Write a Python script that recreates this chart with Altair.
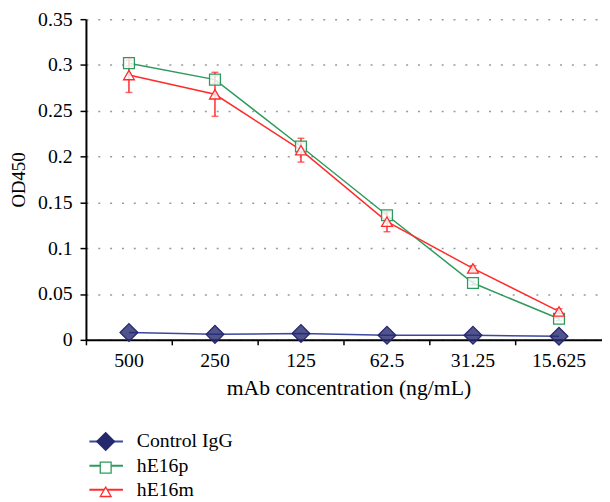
import altair as alt
import pandas as pd

conc = ["500", "250", "125", "62.5", "31.25", "15.625"]
series_names = ["Control IgG", "hE16p", "hE16m"]
control_igg = [0.008, 0.006, 0.007, 0.005, 0.005, 0.004]
he16p = [0.302, 0.284, 0.211, 0.136, 0.062, 0.023]
he16m = [0.289, 0.268, 0.207, 0.129, 0.078, 0.031]
control_err = [0, 0, 0, 0, 0, 0]
he16p_err = [0.003, 0.004, 0.004, 0.004, 0.002, 0.002]
he16m_err = [0.019, 0.024, 0.013, 0.011, 0.003, 0.003]

line_names = [n + " " for n in series_names]

rows = []
for name, lname, vals, errs in zip(series_names, line_names, [control_igg, he16p, he16m],
                                   [control_err, he16p_err, he16m_err]):
    for c, v, e in zip(conc, vals, errs):
        rows.append({"conc": c, "series": name, "series_l": lname, "od": v,
                     "lo": v - e, "hi": v + e})
df = pd.DataFrame(rows)

FONT = "Liberation Serif"
line_colors = ["#3d479e", "#2e9a5e", "#ff2b2b"]
point_colors = ["#26286e", "#2e9a5e", "#ff2b2b"]
fills = ["#26286e", "#ffffff", "#ffffff"]
shapes = ["diamond", "square", "triangle-up"]
sizes = [324, 121, 121]

x_enc = alt.X("conc:N", sort=conc,
              scale=alt.Scale(type="band", paddingInner=0, paddingOuter=0),
              axis=alt.Axis(title="mAb concentration (ng/mL)", labelAngle=0,
                            bandPosition=0, tickSize=5, tickColor="black",
                            tickWidth=1.5, domainColor="black", domainWidth=2,
                            labelFont=FONT, labelFontSize=20, labelColor="black",
                            labelPadding=6, titleFont=FONT, titleFontSize=22,
                            titleFontWeight="normal", titleColor="black",
                            titlePadding=7, titleX=266, grid=False))
y_enc = alt.Y("od:Q", scale=alt.Scale(domain=[0, 0.35], nice=False),
              axis=alt.Axis(title="OD450", values=[0, 0.05, 0.1, 0.15, 0.2, 0.25, 0.3, 0.35],
                            format=".2~f", tickSize=6, tickColor="black", tickWidth=1.5,
                            domainColor="black", domainWidth=2,
                            labelFont=FONT, labelFontSize=20, labelColor="black",
                            labelPadding=8, titleFont=FONT, titleFontSize=19,
                            titleFontWeight="normal", titleColor="black",
                            titlePadding=9, grid=True, gridColor="#999999",
                            gridDash=[2, 10], gridWidth=1.5))

base = alt.Chart(df)

lines = base.mark_line(strokeWidth=1.5).encode(
    x=x_enc, y=y_enc,
    stroke=alt.Stroke("series_l:N",
                      scale=alt.Scale(domain=line_names, range=line_colors),
                      legend=alt.Legend(title=None, orient="none", legendX=10.5, legendY=418,
                                        symbolType="M-2,0H2", symbolSize=289,
                                        symbolStrokeWidth=2, labelFont=FONT,
                                        labelFontSize=20, labelColor="black",
                                        labelOffset=21, rowPadding=4.5, padding=0)),
)

def err_layer(name, color):
    sub = base.transform_filter(alt.datum.series == name)
    rule = sub.mark_rule(color=color, strokeWidth=1.5).encode(
        x=alt.X("conc:N", sort=conc), y="lo:Q", y2="hi:Q")
    cap_lo = sub.mark_tick(color=color, size=7, thickness=1.5).encode(
        x=alt.X("conc:N", sort=conc), y="lo:Q")
    cap_hi = sub.mark_tick(color=color, size=7, thickness=1.5).encode(
        x=alt.X("conc:N", sort=conc), y="hi:Q")
    return [rule, cap_lo, cap_hi]

points = base.mark_point(filled=False, opacity=1, fillOpacity=0.8, strokeWidth=1.3).encode(
    x=alt.X("conc:N", sort=conc), y="od:Q",
    color=alt.Color("series:N", scale=alt.Scale(domain=series_names, range=point_colors),
                    legend=alt.Legend(title=None, orient="none", legendX=10, legendY=418,
                                      labelFont=FONT, labelFontSize=20, labelExpr="''",
                                      labelOffset=13, rowPadding=4.5, padding=0,
                                      symbolStrokeWidth=1.3)),
    shape=alt.Shape("series:N", scale=alt.Scale(domain=series_names, range=shapes)),
    fill=alt.Fill("series:N", scale=alt.Scale(domain=series_names, range=fills)),
    size=alt.Size("series:N", scale=alt.Scale(type="ordinal", domain=series_names, range=sizes)),
)

layers = [lines] + err_layer("hE16p", "#2e9a5e") + err_layer("hE16m", "#ff2b2b") + [points]

chart = alt.layer(*layers).properties(
    width=523, height=325,
    autosize=alt.AutoSizeParams(type="none"),
    padding={"left": 79, "top": 8, "right": 0, "bottom": 161},
).configure_view(stroke=None)

chart.save("out.html", embed_options={"renderer": "svg", "actions": False})
